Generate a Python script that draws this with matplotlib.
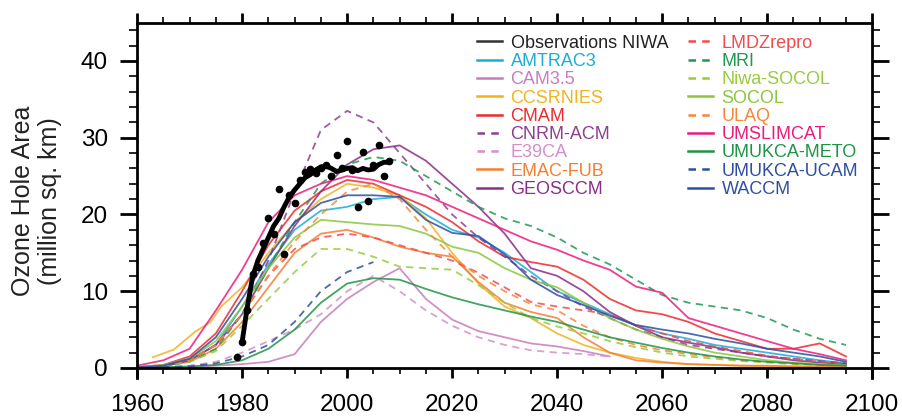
import numpy as np
import matplotlib.pyplot as plt
from matplotlib.lines import Line2D
from matplotlib.ticker import MultipleLocator

plt.rcParams['font.family'] = ['Liberation Sans', 'DejaVu Sans']

# 5-year grid used by most model runs
years = [1960, 1965, 1970, 1975, 1980, 1985, 1990, 1995, 2000, 2005, 2010, 2015, 2020, 2025,
         2030, 2035, 2040, 2045, 2050, 2055, 2060, 2065, 2070, 2075, 2080, 2085, 2090, 2095]

amtrac3 = [0.1, 0.3, 1.0, 3.0, 8.0, 13.5, 18.0, 20.5, 21.0, 22.0, 22.3, 20.0, 18.0, 17.0,
           15.0, 12.5, 10.0, 8.5, 7.0, 5.5, 4.5, 3.8, 3.0, 2.5, 2.0, 1.5, 1.0, 0.6]
cam35 = [0.0, 0.0, 0.1, 0.3, 0.5, 0.8, 1.8, 6.0, 9.0, 11.2, 13.0, 9.0, 6.3, 4.8,
         4.0, 3.2, 2.8, 2.2, 1.5]
ccsrnies_years = [1963, 1967, 1971, 1974, 1976, 1980, 1985, 1990, 1995, 2000, 2005, 2010, 2015,
                  2020, 2025, 2030, 2035, 2040, 2045, 2050, 2055, 2060, 2065, 2070, 2075, 2080,
                  2085, 2090, 2095]
ccsrnies = [1.4, 2.4, 4.7, 6.0, 8.0, 10.5, 15.0, 19.0, 22.0, 24.0, 23.5, 22.5, 19.5,
            15.0, 11.0, 8.0, 6.5, 4.5, 3.0, 2.0, 1.3, 0.8, 0.5, 0.4, 0.3, 0.2, 0.2, 0.1, 0.1]
cmam = [0.1, 0.4, 1.5, 4.5, 10.0, 16.0, 20.5, 23.0, 24.5, 24.0, 22.5, 21.0, 19.0, 16.5,
        14.5, 13.8, 13.2, 11.5, 9.0, 7.5, 7.0, 6.0, 4.5, 3.5, 2.5, 2.5, 3.2, 1.5]
cnrm_acm = [0.1, 0.3, 1.0, 3.0, 7.0, 14.0, 23.0, 31.0, 33.5, 32.0, 28.0, 24.0, 20.0, 17.0,
            14.5, 12.0, 10.0, 8.0, 6.5, 5.0, 4.0, 3.0, 2.5, 2.0, 1.5, 1.2, 0.9, 0.6]
e39ca = [0.0, 0.1, 0.3, 0.8, 2.0, 3.5, 5.0, 7.0, 10.0, 12.0, 10.0, 7.5, 5.5, 4.0,
         3.0, 2.3, 2.0, 1.8, 1.5]
emac_fub = [0.1, 0.3, 0.8, 2.5, 6.0, 10.5, 15.0, 17.5, 18.0, 17.0, 15.8, 15.0, 14.5, 11.2,
            8.5, 7.3, 6.5, 4.0, 2.0, 1.0, 0.7, 0.5, 0.4, 0.3, 0.3, 0.2, 0.2, 0.1]
geosccm = [0.0, 0.2, 1.0, 3.0, 7.0, 13.0, 18.5, 23.0, 26.5, 28.5, 29.0, 27.0, 24.0, 21.0,
           17.5, 13.0, 12.0, 10.0, 7.3, 5.5, 4.0, 3.3, 2.7, 2.0, 1.5, 1.0, 0.7, 0.5]
lmdzrepro = [0.1, 0.3, 1.0, 3.0, 7.0, 12.0, 15.5, 17.0, 17.5, 17.0, 16.0, 15.0, 14.0, 12.4,
             10.5, 8.6, 8.0, 7.5, 7.0, 5.5, 4.5, 3.5, 2.8, 2.2, 1.6, 1.2, 0.8, 0.5]
mri = [0.0, 0.2, 0.8, 2.5, 7.0, 13.0, 19.0, 24.0, 26.5, 27.5, 27.0, 25.0, 23.0, 21.0,
       19.5, 18.5, 17.0, 15.0, 13.5, 11.5, 9.5, 8.5, 8.0, 7.5, 6.5, 5.0, 3.8, 3.0]
niwa_socol = [0.1, 0.3, 0.8, 2.2, 5.5, 9.0, 12.5, 15.5, 15.5, 14.5, 13.2, 13.0, 12.8, 10.8,
              8.5, 6.5, 5.4, 4.5, 3.5, 2.7, 2.0, 1.5, 1.2, 0.9, 0.7, 0.5, 0.4, 0.3]
socol = [0.1, 0.4, 1.2, 3.5, 8.0, 13.0, 17.0, 19.3, 19.0, 18.7, 18.5, 17.5, 15.8, 15.0,
         13.0, 11.5, 10.5, 8.5, 6.5, 5.0, 3.8, 2.8, 2.0, 1.5, 1.0, 0.7, 0.5, 0.3]
ulaq = [0.1, 0.3, 1.0, 3.0, 7.0, 12.0, 16.5, 20.0, 23.0, 24.0, 22.0, 18.0, 14.5, 12.0,
        10.0, 8.3, 7.5, 5.5, 4.0, 3.0, 2.3, 1.8, 1.4, 1.0, 0.8, 0.6, 0.4, 0.3]
umslimcat = [0.3, 1.0, 2.5, 7.5, 12.8, 19.0, 22.5, 24.0, 25.0, 24.5, 23.5, 22.5, 21.0, 19.5,
             18.0, 16.5, 15.4, 14.0, 12.8, 10.6, 9.8, 6.5, 5.5, 4.5, 3.5, 2.5, 1.8, 1.0]
umukca_meto = [0.0, 0.1, 0.2, 0.4, 1.0, 2.5, 5.0, 8.5, 11.0, 11.7, 11.5, 10.3, 9.2, 8.3,
               7.5, 6.7, 6.0, 5.0, 4.0, 3.3, 2.6, 2.0, 1.5, 1.1, 0.8, 0.6, 0.4, 0.3]
umukca_ucam = [0.0, 0.1, 0.2, 0.6, 1.5, 3.0, 6.0, 10.0, 12.5, 13.8]
waccm = [0.1, 0.3, 1.2, 4.0, 9.0, 14.5, 19.0, 21.5, 22.5, 22.5, 22.3, 19.3, 17.6, 17.2,
         14.8, 11.5, 9.5, 8.2, 6.8, 5.6, 5.0, 4.5, 3.8, 3.2, 2.5, 2.0, 1.5, 0.8]

# observations (NIWA): smoothed line and yearly values
obs_line_years = list(range(1980, 2009))
obs_line = [3.4, 8.0, 11.9, 14.0, 15.5, 17.0, 18.5, 19.5, 21.0, 22.3, 23.2, 24.0, 24.8, 25.2,
            25.8, 26.2, 26.3, 26.0, 25.6, 25.8, 26.0, 26.1, 25.7, 26.0, 25.8, 25.9, 26.5, 26.8, 26.8]
obs_years = list(range(1979, 2009))
obs_vals = [1.4, 3.4, 7.5, 12.2, 13.2, 16.3, 19.6, 17.5, 23.3, 14.8, 22.5, 21.5, 24.5, 25.5,
            25.9, 25.4, 26.0, 26.5, 25.0, 27.8, 26.0, 29.6, 25.8, 21.0, 28.2, 21.7, 26.5, 29.1,
            25.0, 27.0]

models = [
    ('AMTRAC3', years, amtrac3, '#1aaed6', '-'),
    ('CAM3.5', years, cam35, '#c77dbf', '-'),
    ('CCSRNIES', ccsrnies_years, ccsrnies, '#f1b320', '-'),
    ('CMAM', years, cmam, '#ee2a2e', '-'),
    ('CNRM-ACM', years, cnrm_acm, '#8e3f92', '--'),
    ('E39CA', years, e39ca, '#d590c8', '--'),
    ('EMAC-FUB', years, emac_fub, '#f47f30', '-'),
    ('GEOSCCM', years, geosccm, '#8a2e8c', '-'),
    ('LMDZrepro', years, lmdzrepro, '#f04c4f', '--'),
    ('MRI', years, mri, '#1f9a4c', '--'),
    ('Niwa-SOCOL', years, niwa_socol, '#98cb3d', '--'),
    ('SOCOL', years, socol, '#8cc63e', '-'),
    ('ULAQ', years, ulaq, '#f5873a', '--'),
    ('UMSLIMCAT', years, umslimcat, '#ec1c7d', '-'),
    ('UMUKCA-METO', years, umukca_meto, '#1f9447', '-'),
    ('UMUKCA-UCAM', years, umukca_ucam, '#2e4fa0', '--'),
    ('WACCM', years, waccm, '#2f4fa2', '-'),
]

fig = plt.figure(figsize=(9.02, 4.19), dpi=100)
ax = fig.add_axes([0.152, 0.098, 0.815, 0.848])

for name, yrs, vals, col, ls in models:
    ax.plot(yrs[:len(vals)], vals, color=col, ls=ls, lw=1.3, alpha=0.85,
            dashes=(4, 3) if ls == '--' else (None, None))

ax.plot(obs_line_years, obs_line, color='black', lw=3.5, solid_capstyle='round', zorder=5)
ax.plot(obs_years, obs_vals, 'o', color='black', ms=4.5, zorder=6)

ax.set_xlim(1960, 2100)
ax.set_ylim(-1.3, 45)
ax.spines['bottom'].set_position(('data', 0))
for s in ax.spines.values():
    s.set_linewidth(2)

ax.xaxis.set_major_locator(MultipleLocator(20))
ax.xaxis.set_minor_locator(MultipleLocator(5))
ax.yaxis.set_major_locator(MultipleLocator(10))
ax.yaxis.set_minor_locator(MultipleLocator(2))
ax.tick_params(axis='both', which='both', direction='out', top=True, right=True, labelsize=17.5)
ax.tick_params(axis='y', which='major', length=12, width=2, pad=9)
ax.tick_params(axis='y', which='minor', length=6, width=1.2)
ax.tick_params(axis='x', which='major', length=7, width=2, pad=12)
ax.tick_params(axis='x', which='minor', length=4, width=1.2)

fig.text(0.04, 0.52, 'Ozone Hole Area\n(million sq. km)', rotation=90,
         ha='center', va='center', fontsize=18, linespacing=1.15, color='#222222')

handles = [Line2D([], [], color='#333333', lw=1.8)]
labels = ['Observations NIWA']
colors = ['#222222']
for name, yrs, vals, col, ls in models:
    handles.append(Line2D([], [], color=col, lw=1.8, ls=ls,
                          dashes=(3, 2.5) if ls == '--' else (None, None)))
    labels.append(name)
    colors.append(col)

leg = ax.legend(handles, labels, ncol=2, loc='upper left', bbox_to_anchor=(0.529, 0.917),
                bbox_transform=fig.transFigure, frameon=False, fontsize=13,
                handlelength=1.4, handletextpad=0.45, columnspacing=1.1,
                labelspacing=0.07, borderpad=0, borderaxespad=0)
for t, c in zip(leg.get_texts(), colors):
    t.set_color(c)

fig.savefig('out.png', dpi=100)
